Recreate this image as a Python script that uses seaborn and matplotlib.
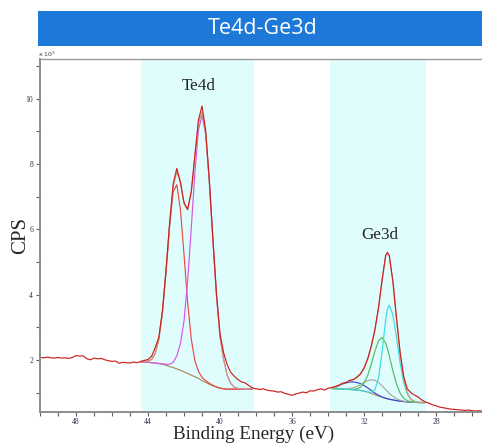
import matplotlib
matplotlib.use("Agg")
import matplotlib.pyplot as plt
from matplotlib.patches import Rectangle
from matplotlib.ticker import MultipleLocator
import seaborn as sns
import pandas as pd

# ---------------- data (counts in 10^3 CPS) ----------------
raw_be = [50.0, 49.8, 49.6, 49.4, 49.2, 49.0, 48.8, 48.6, 48.4, 48.2, 48.0, 47.8, 47.6, 47.4,
          47.2, 47.0, 46.8, 46.6, 46.4, 46.2, 46.0, 45.8, 45.6, 45.4, 45.2, 45.0, 44.8, 44.6,
          44.4, 44.2, 44.0, 43.8, 43.6, 43.4, 43.2, 43.0, 42.8, 42.6, 42.4, 42.2, 42.0, 41.8,
          41.6, 41.4, 41.2, 41.0, 40.8, 40.6, 40.4, 40.2, 40.0, 39.8, 39.6, 39.4, 39.2, 39.0,
          38.8, 38.6, 38.4, 38.2, 38.0, 37.8, 37.6, 37.4, 37.2, 37.0, 36.8, 36.6, 36.4, 36.2,
          36.0, 35.8, 35.6, 35.4, 35.2, 35.0, 34.8, 34.6, 34.4, 34.2, 34.0, 33.8, 33.6, 33.4,
          33.2, 33.0, 32.8, 32.6, 32.4, 32.2, 32.0, 31.8, 31.6, 31.4, 31.2, 31.0, 30.8, 30.7,
          30.6, 30.4, 30.2, 30.0, 29.8, 29.6, 29.4, 29.2, 29.0, 28.8, 28.6, 28.4, 28.2, 28.0,
          27.8, 27.6, 27.4, 27.2, 27.0, 26.8, 26.6, 26.4, 26.2, 26.0, 25.8, 25.6, 25.4]
raw_cps = [2.08, 2.07, 2.09, 2.07, 2.06, 2.08, 2.06, 2.07, 2.05, 2.08, 2.14, 2.12, 2.13, 2.04,
           2.01, 2.06, 2.04, 2.05, 2.01, 1.98, 1.96, 1.97, 1.90, 1.93, 1.92, 1.91, 1.94, 1.92,
           1.96, 1.99, 2.02, 2.12, 2.38, 2.70, 3.50, 4.75, 6.20, 7.40, 7.87, 7.45, 6.82, 6.62,
           7.15, 8.25, 9.35, 9.78, 9.05, 7.55, 5.75, 4.05, 2.80, 2.22, 1.85, 1.62, 1.50, 1.40,
           1.33, 1.30, 1.22, 1.15, 1.12, 1.10, 1.12, 1.08, 1.06, 1.05, 1.02, 1.03, 0.98, 0.95,
           0.92, 0.96, 0.99, 1.02, 1.00, 1.06, 1.05, 1.09, 1.12, 1.08, 1.14, 1.16, 1.19, 1.23,
           1.29, 1.31, 1.38, 1.40, 1.48, 1.58, 1.76, 2.04, 2.43, 2.93, 3.60, 4.45, 5.21, 5.28,
           5.20, 4.42, 3.30, 2.25, 1.50, 1.12, 1.00, 0.93, 0.87, 0.78, 0.72, 0.68, 0.63, 0.60,
           0.56, 0.54, 0.52, 0.50, 0.49, 0.48, 0.47, 0.46, 0.47, 0.45, 0.44, 0.45, 0.43]

te_be = [44.4, 44.2, 44.0, 43.8, 43.6, 43.4, 43.2, 43.0, 42.8, 42.6, 42.4, 42.2, 42.0, 41.8,
         41.6, 41.4, 41.2, 41.0, 40.8, 40.6, 40.4, 40.2, 40.0, 39.8, 39.6, 39.4, 39.2, 39.0,
         38.8, 38.6, 38.4, 38.2]
te_bg = [1.94, 1.94, 1.93, 1.92, 1.91, 1.89, 1.87, 1.84, 1.80, 1.77, 1.73, 1.69, 1.64, 1.59,
         1.54, 1.49, 1.44, 1.37, 1.32, 1.26, 1.21, 1.17, 1.14, 1.12, 1.11, 1.11, 1.11, 1.11,
         1.11, 1.11, 1.11, 1.11]
te_4d32 = [1.95, 1.96, 1.97, 2.02, 2.20, 2.63, 3.46, 4.70, 6.10, 7.16, 7.37, 6.61, 5.23, 3.77,
           2.65, 1.99, 1.66, 1.47, 1.37, 1.29, 1.23, 1.18, 1.14, 1.12, 1.11, 1.11, 1.11, 1.11,
           1.11, 1.11, 1.11, 1.11]
te_4d52 = [1.94, 1.94, 1.93, 1.92, 1.91, 1.90, 1.89, 1.87, 1.87, 1.93, 2.13, 2.51, 3.20, 4.41,
           6.02, 7.72, 9.04, 9.49, 8.92, 7.49, 5.69, 3.99, 2.70, 2.02, 1.53, 1.28, 1.17, 1.13,
           1.115, 1.11, 1.11, 1.11]
te_env = [1.95, 1.96, 1.97, 2.02, 2.20, 2.64, 3.48, 4.73, 6.17, 7.32, 7.77, 7.43, 6.79, 6.59,
          7.13, 8.22, 9.26, 9.59, 8.97, 7.52, 5.71, 4.00, 2.70, 2.02, 1.53, 1.28, 1.17, 1.13,
          1.115, 1.11, 1.11, 1.11]

ge_be = [33.8, 33.6, 33.4, 33.2, 33.0, 32.8, 32.6, 32.4, 32.2, 32.0, 31.8, 31.6, 31.4, 31.2,
         31.0, 30.8, 30.7, 30.6, 30.4, 30.2, 30.0, 29.8, 29.6, 29.4, 29.2, 29.0, 28.8, 28.6]
ge_bg = [1.13, 1.12, 1.12, 1.11, 1.10, 1.10, 1.09, 1.08, 1.07, 1.05, 1.02, 0.98, 0.94, 0.90,
         0.86, 0.83, 0.815, 0.80, 0.78, 0.76, 0.74, 0.73, 0.72, 0.71, 0.71, 0.70, 0.70, 0.70]
ge_cyan = [1.13, 1.12, 1.12, 1.11, 1.10, 1.10, 1.09, 1.08, 1.07, 1.05, 1.024, 1.01, 1.09, 1.45,
           2.24, 3.23, 3.565, 3.68, 3.39, 2.70, 1.92, 1.32, 0.96, 0.79, 0.733, 0.705, 0.70, 0.70]
ge_green = [1.13, 1.12, 1.12, 1.111, 1.102, 1.103, 1.10, 1.116, 1.17, 1.30, 1.53, 1.87, 2.27,
            2.59, 2.69, 2.52, 2.345, 2.13, 1.67, 1.27, 0.99, 0.83, 0.756, 0.721, 0.713, 0.70,
            0.70, 0.70]
ge_grey = [1.13, 1.121, 1.122, 1.115, 1.113, 1.129, 1.15, 1.19, 1.251, 1.317, 1.372, 1.396,
           1.38, 1.316, 1.212, 1.097, 1.038, 0.981, 0.89, 0.82, 0.769, 0.743, 0.725, 0.712,
           0.71, 0.70, 0.70, 0.70]
ge_blue = [1.13, 1.16, 1.22, 1.27, 1.30, 1.33, 1.33, 1.31, 1.28, 1.22, 1.15, 1.07, 0.99, 0.925,
           0.87, 0.83, 0.815, 0.80, 0.78, 0.76, 0.74, 0.73, 0.72, 0.71, 0.71, 0.70, 0.70, 0.70]
ge_env = [1.13, 1.16, 1.22, 1.28, 1.32, 1.36, 1.40, 1.46, 1.56, 1.74, 2.02, 2.41, 2.91, 3.58,
          4.43, 5.19, 5.32, 5.19, 4.39, 3.27, 2.20, 1.43, 1.00, 0.80, 0.74, 0.705, 0.70, 0.70]

regions = [(44.4, 38.13), (33.87, 28.56)]
region_labels = ["Te4d", "Ge3d"]
region_label_pos = [(41.17, 10.39), (31.11, 5.83)]
x_ticks = [48, 44, 40, 36, 32, 28]
y_ticks = [2, 4, 6, 8, 10]
title = "Te4d-Ge3d"

# ---------------- figure ----------------
sns.set_style("ticks")
plt.rcParams["font.family"] = ["Liberation Serif", "DejaVu Serif"]

fig = plt.figure(figsize=(4.82, 4.43), dpi=100)
ax = fig.add_axes([40 / 482, 1 - 412 / 443, (482 - 40) / 482, (412 - 59) / 443])

for (a, b) in regions:
    ax.axvspan(a, b, color="#E0FDFD", lw=0, zorder=0)

raw = pd.DataFrame({"be": raw_be, "cps": raw_cps})
te = pd.DataFrame({"be": te_be, "bg": te_bg, "c1": te_4d32, "c2": te_4d52, "env": te_env})
ge = pd.DataFrame({"be": ge_be, "bg": ge_bg, "cy": ge_cyan, "gr": ge_green,
                   "gy": ge_grey, "bl": ge_blue, "env": ge_env})

lw = 0.85
kw = dict(sort=False, estimator=None, ax=ax, lw=lw, legend=False)
sns.lineplot(data=te, x="be", y="bg", color="#A88A55", **kw)
sns.lineplot(data=te, x="be", y="c1", color="#E84A4A", **kw)
sns.lineplot(data=te, x="be", y="c2", color="#D656E8", **kw)
sns.lineplot(data=ge, x="be", y="bg", color="#A88A55", **kw)
sns.lineplot(data=ge, x="be", y="bl", color="#3A48E0", **kw)
sns.lineplot(data=ge, x="be", y="gy", color="#A8A8A8", **kw)
sns.lineplot(data=ge, x="be", y="gr", color="#4CC060", **kw)
sns.lineplot(data=ge, x="be", y="cy", color="#38DCE0", **kw)
sns.lineplot(data=te, x="be", y="env", color="#C8A078", **kw)
sns.lineplot(data=ge, x="be", y="env", color="#C8A078", **kw)
sns.lineplot(data=raw, x="be", y="cps", color="#CC2020", **kw)

ax.set_xlim(50, 25.45)
ax.set_ylim(0.41, 11.22)
ax.set_xticks(x_ticks)
ax.set_xticklabels([str(t) for t in x_ticks])
ax.set_yticks(y_ticks)
ax.set_yticklabels([str(t) for t in y_ticks])
ax.xaxis.set_minor_locator(MultipleLocator(1))
ax.yaxis.set_minor_locator(MultipleLocator(1))
ax.tick_params(axis="both", which="both", direction="out", length=3, width=0.8,
               color="#606060", labelsize=5.5, labelcolor="#303050", pad=2)
ax.tick_params(axis="x", pad=1)

for s in ["left", "bottom"]:
    ax.spines[s].set_color("#8C8C8C")
    ax.spines[s].set_linewidth(1.4)
ax.spines["top"].set_visible(True)
ax.spines["top"].set_color("#9A9A9A")
ax.spines["top"].set_linewidth(1.0)
ax.spines["right"].set_visible(False)

ax.set_xlabel("")
ax.set_ylabel("")
fig.text(254 / 482, 1 - 434.5 / 443, "Binding Energy (eV)", fontsize=13.8,
         ha="center", va="center")
fig.text(21 / 482, 1 - 235 / 443, "CPS", fontsize=15, rotation=90,
         ha="center", va="center")

for lab, (xx, yy) in zip(region_labels, region_label_pos):
    ax.text(xx, yy, lab, fontsize=12.3, ha="center", va="center")

fig.text(38 / 482, 1 - 54 / 443, r"x 10$^3$", fontsize=4.5, color="#404040",
         family="DejaVu Sans", ha="left", va="center")

# title bar
fig.patches.append(Rectangle((38 / 482, 1 - 46 / 443), 1 - 38 / 482, 35 / 443,
                             transform=fig.transFigure, facecolor="#1E78D7",
                             edgecolor="none", zorder=0))
fig.text(263 / 482, 1 - 29 / 443, title, fontsize=15.5, color="white",
         family="Open Sans", ha="center", va="center")

fig.savefig("out.png", dpi=100)
